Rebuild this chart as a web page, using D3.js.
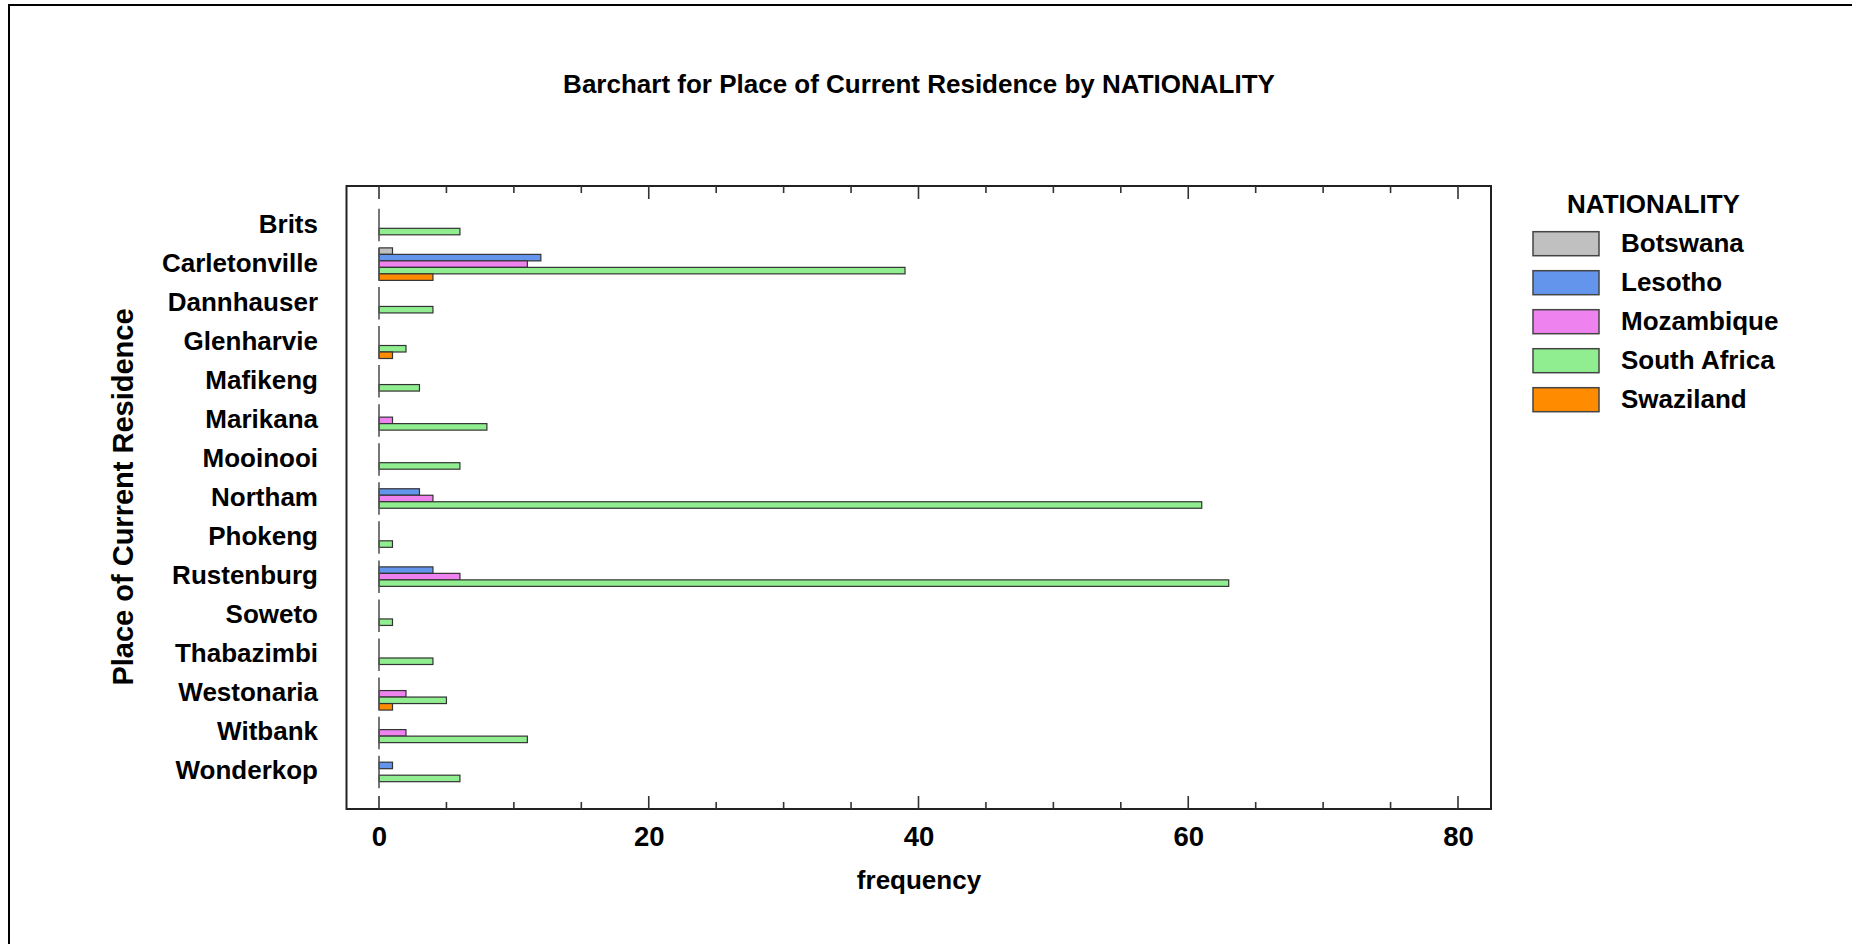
<!DOCTYPE html>
<html>
<head>
<meta charset="utf-8">
<script src="https://cdn.jsdelivr.net/npm/d3@7"></script>
<style>
  html, body { margin: 0; padding: 0; background: #fff; }
  svg { display: block; }
  text { font-family: "Liberation Sans", Arial, sans-serif; font-weight: bold; fill: #000; }
</style>
</head>
<body>
<svg id="chart" width="1852" height="944"></svg>
<script>
// ---- data ----
const categories = ["Brits", "Carletonville", "Dannhauser", "Glenharvie", "Mafikeng", "Marikana",
  "Mooinooi", "Northam", "Phokeng", "Rustenburg", "Soweto", "Thabazimbi", "Westonaria", "Witbank", "Wonderkop"];
const seriesNames = ["Botswana", "Lesotho", "Mozambique", "South Africa", "Swaziland"];
const botswana   = [0, 1, 0, 0, 0, 0, 0, 0, 0, 0, 0, 0, 0, 0, 0];
const lesotho    = [0, 12, 0, 0, 0, 0, 0, 3, 0, 4, 0, 0, 0, 0, 1];
const mozambique = [0, 11, 0, 0, 0, 1, 0, 4, 0, 6, 0, 0, 2, 2, 0];
const southAfrica= [6, 39, 4, 2, 3, 8, 6, 61, 1, 63, 1, 4, 5, 11, 6];
const swaziland  = [0, 4, 0, 1, 0, 0, 0, 0, 0, 0, 0, 0, 1, 0, 0];
const xTicks = [0, 20, 40, 60, 80];
const colors = ["#c0c0c0", "#6495ed", "#ee82ee", "#90ee90", "#ff8c00"];

const seriesValues = [botswana, lesotho, mozambique, southAfrica, swaziland];

const svg = d3.select("#chart");

// outer frame
svg.append("rect").attr("x", 9).attr("y", 5).attr("width", 1900).attr("height", 1000)
  .attr("fill", "none").attr("stroke", "#000").attr("stroke-width", 2);

const plot = { left: 346.5, right: 1491, top: 186, bottom: 809 };

const x = d3.scaleLinear().domain([0, 80]).range([379, 1458]);
const y = d3.scalePoint().domain(categories).range([186, 811]).padding(1);
const inner = d3.scaleBand().domain(seriesNames).range([-16.25, 16.25]);

// title
svg.append("text").attr("x", 919).attr("y", 93).attr("text-anchor", "middle")
  .style("font-size", "26px").text("Barchart for Place of Current Residence by NATIONALITY");

// plot box
svg.append("rect").attr("x", plot.left).attr("y", plot.top)
  .attr("width", plot.right - plot.left).attr("height", plot.bottom - plot.top)
  .attr("fill", "none").attr("stroke", "#222").attr("stroke-width", 2);

// ticks (bottom & top, inward)
const minorTicks = d3.range(0, 81, 5);
const bottomAxis = d3.axisBottom(x).tickValues(xTicks).tickSize(0).tickPadding(0).tickFormat(d3.format("d"));
const gB = svg.append("g").attr("transform", `translate(0,${plot.bottom})`).call(bottomAxis);
gB.select(".domain").remove();
gB.selectAll("text").attr("y", 36.5).attr("dy", 0).style("font-size", "27.5px")
  .style("font-family", "'Liberation Sans', Arial, sans-serif").style("font-weight", "bold").attr("fill", "#000");

const tickG = svg.append("g");
minorTicks.forEach(v => {
  const major = xTicks.includes(v);
  const len = major ? 13 : 7;
  tickG.append("line").attr("x1", x(v)).attr("x2", x(v))
    .attr("y1", plot.bottom).attr("y2", plot.bottom - len)
    .attr("stroke", "#333").attr("stroke-width", 1.6);
  tickG.append("line").attr("x1", x(v)).attr("x2", x(v))
    .attr("y1", plot.top).attr("y2", plot.top + len)
    .attr("stroke", "#333").attr("stroke-width", 1.6);
});

// category labels
const leftAxis = d3.axisLeft(y).tickSize(0).tickPadding(0);
const gL = svg.append("g").attr("transform", "translate(318,0)").call(leftAxis);
gL.select(".domain").remove();
gL.selectAll("text").attr("x", 0).attr("dy", "0.27em").style("font-size", "26px")
  .style("font-family", "'Liberation Sans', Arial, sans-serif").style("font-weight", "bold").attr("fill", "#000");

// bars
const groups = svg.append("g").selectAll("g").data(categories).join("g")
  .attr("transform", d => `translate(0,${y(d)})`);

groups.each(function(cat, ci) {
  const g = d3.select(this);
  seriesNames.forEach((s, si) => {
    const v = seriesValues[si][ci];
    if (v > 0) {
      g.append("rect").attr("x", x(0)).attr("y", inner(s))
        .attr("width", x(v) - x(0)).attr("height", inner.bandwidth())
        .attr("fill", colors[si]).attr("stroke", "#333").attr("stroke-width", 1.2);
    }
  });
  g.append("line").attr("x1", x(0)).attr("x2", x(0))
    .attr("y1", inner.range()[0]).attr("y2", inner.range()[1])
    .attr("stroke", "#555").attr("stroke-width", 1.6);
});

// axis titles
svg.append("text").attr("x", 919).attr("y", 889).attr("text-anchor", "middle")
  .style("font-size", "26px").text("frequency");
svg.append("text").attr("transform", "translate(133,497) rotate(-90)").attr("text-anchor", "middle")
  .style("font-size", "29px").text("Place of Current Residence");

// legend
const legend = svg.append("g");
legend.append("text").attr("x", 1653.5).attr("y", 213).attr("text-anchor", "middle")
  .style("font-size", "26px").text("NATIONALITY");
seriesNames.forEach((s, i) => {
  const yy = 231.7 + i * 39;
  legend.append("rect").attr("x", 1533).attr("y", yy).attr("width", 66).attr("height", 24)
    .attr("fill", colors[i]).attr("stroke", "#444").attr("stroke-width", 1.5);
  legend.append("text").attr("x", 1621).attr("y", yy + 20).style("font-size", "26px").text(s);
});
</script>
</body>
</html>
